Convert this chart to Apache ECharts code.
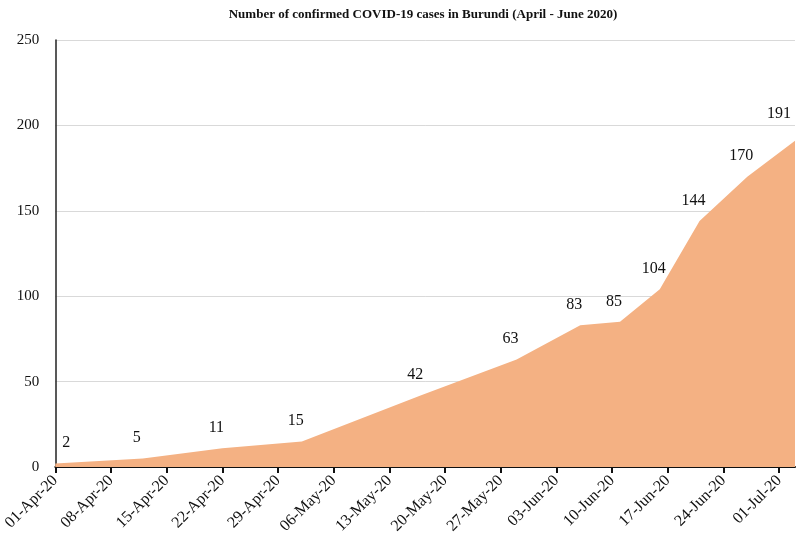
<!DOCTYPE html>
<html lang="en">
<head>
    <meta charset="UTF-8">
    <title>Confirmed COVID-19 cases in Burundi</title>
    <script src="https://cdn.jsdelivr.net/npm/echarts@6/dist/echarts.min.js"></script>
    <style>
        body { margin: 0; background: #fff; }
        #chart { width: 797px; height: 546px; }
    </style>
</head>
<body>
    <div id="chart"></div>
    <script>
        // report dates and cumulative confirmed cases
        const reportDates = ['2020-04-01', '2020-04-12', '2020-04-22', '2020-05-02', '2020-05-17', '2020-05-29',
                             '2020-06-06', '2020-06-11', '2020-06-16', '2020-06-21', '2020-06-27', '2020-07-03'];
        const confirmedCases = [2, 5, 11, 15, 42, 63, 83, 85, 104, 144, 170, 191];

        // weekly tick labels on the x axis
        const xTickLabels = ['01-Apr-20', '08-Apr-20', '15-Apr-20', '22-Apr-20', '29-Apr-20', '06-May-20', '13-May-20',
                             '20-May-20', '27-May-20', '03-Jun-20', '10-Jun-20', '17-Jun-20', '24-Jun-20', '01-Jul-20'];
        const yTicks = [0, 50, 100, 150, 200, 250];

        const startDay = Date.UTC(2020, 3, 1);
        const dayOf = s => (Date.parse(s + 'T00:00:00Z') - startDay) / 86400000;
        const tickDays = xTickLabels.map((_, i) => i * 7);

        const lastIdx = confirmedCases.length - 1;
        const seriesData = confirmedCases.map((v, i) => {
            const item = { value: [dayOf(reportDates[i]), v] };
            if (i === 0) item.label = { offset: [11, -2] };
            if (i === lastIdx) item.label = { offset: [-16, -8] };
            return item;
        });

        const chart = echarts.init(document.getElementById('chart'));
        chart.setOption({
            animation: false,
            title: {
                text: 'Number of confirmed COVID-19 cases in Burundi (April - June 2020)',
                left: 418,
                textAlign: 'center',
                top: 3,
                textStyle: {
                    fontFamily: 'Liberation Serif',
                    fontSize: 13,
                    fontWeight: 'bold',
                    color: '#111'
                }
            },
            grid: { left: 55, right: 2, top: 40, bottom: 79 },
            xAxis: {
                type: 'value',
                min: 0,
                max: dayOf(reportDates[lastIdx]),
                splitLine: { show: false },
                axisLine: { lineStyle: { color: '#111', width: 2 } },
                axisTick: { customValues: tickDays, length: 6, lineStyle: { color: '#111', width: 2 } },
                axisLabel: {
                    customValues: tickDays,
                    rotate: 45,
                    margin: 11,
                    fontFamily: 'Liberation Serif',
                    fontSize: 16,
                    color: '#111',
                    formatter: v => xTickLabels[Math.round(v / 7)] || ''
                }
            },
            yAxis: {
                type: 'value',
                min: yTicks[0],
                max: yTicks[yTicks.length - 1],
                interval: 50,
                axisLine: { show: true, lineStyle: { color: '#222', width: 1.5 } },
                axisTick: { show: false },
                splitLine: { lineStyle: { color: '#d9d9d9', width: 1 } },
                axisLabel: {
                    margin: 16,
                    fontFamily: 'Liberation Serif',
                    fontSize: 15,
                    color: '#111'
                }
            },
            series: [{
                type: 'line',
                data: seriesData,
                showSymbol: true,
                symbol: 'circle',
                symbolSize: 1,
                itemStyle: { color: 'rgba(0,0,0,0)', borderWidth: 0 },
                lineStyle: { width: 0 },
                areaStyle: { color: '#f4b183', opacity: 1 },
                label: {
                    show: true,
                    position: 'top',
                    distance: 10,
                    offset: [-6, -2],
                    fontFamily: 'Liberation Serif',
                    fontSize: 16,
                    color: '#111'
                },
                z: 1
            }]
        });
    </script>
</body>
</html>
